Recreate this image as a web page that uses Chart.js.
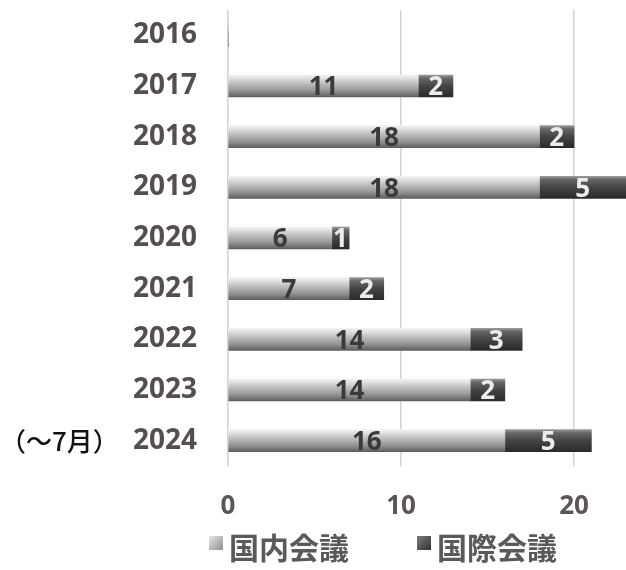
<!DOCTYPE html>
<html>
<head>
<meta charset="utf-8">
<script src="https://cdn.jsdelivr.net/npm/chart.js@4.4.0/dist/chart.umd.min.js"></script>
<style>
  html, body { margin: 0; padding: 0; background: #fff; }
  #wrap { position: relative; width: 626px; height: 570px; }
  #legend { position: absolute; left: 209px; top: 526px; display: flex; font: bold 30px "Noto Sans CJK JP"; color: #5a5a5a; line-height: 40px; }
  #legend .item { display: flex; align-items: center; margin-right: 68px; }
  #legend .box { width: 14px; height: 14px; margin-right: 6px; margin-top: -6px; }
</style>
</head>
<body>
<div id="wrap"><canvas id="myChart"></canvas><div id="legend"></div></div>
<script>
// DATA
const years = ['2016', '2017', '2018', '2019', '2020', '2021', '2022', '2023', '2024'];
const domestic = [0, 11, 18, 18, 6, 7, 14, 14, 16];
const international = [0, 2, 2, 5, 1, 2, 3, 2, 5];
const xTicks = [0, 10, 20];

const BAR_H = 22;
const FONT = '"Open Sans"';

// cylinder-like shading for each bar
function barFill(stops, flat) {
    return function(c) {
        const chart = c.chart;
        if (c.type !== 'data' || !chart.chartArea) return flat;
        const yc = chart.scales.y.getPixelForValue(c.dataIndex);
        const g = chart.ctx.createLinearGradient(0, yc - BAR_H / 2, 0, yc + BAR_H / 2);
        stops.forEach(s => g.addColorStop(s[0], s[1]));
        return g;
    };
}

const domStops = [[0, '#f2f2f2'], [0.15, '#e0e0e0'], [0.4, '#bdbdbd'], [0.72, '#939393'], [1, '#5e5e5e']];
const intStops = [[0, '#9a9a9a'], [0.15, '#666666'], [0.5, '#444444'], [1, '#2a2a2a']];
const legendFill = ['linear-gradient(135deg, #e6e6e6, #8f8f8f)', 'linear-gradient(135deg, #808080, #2e2e2e)'];

// numbers inside the bars + the "(~7月)" note
const labelPlugin = {
    id: 'barLabels',
    afterDatasetsDraw(chart) {
        const ctx = chart.ctx;
        ctx.save();
        ctx.textAlign = 'center';
        ctx.textBaseline = 'middle';
        ctx.font = 'bold 26px ' + FONT;
        chart.data.datasets.forEach((ds, di) => {
            const meta = chart.getDatasetMeta(di);
            ctx.fillStyle = di === 0 ? '#3a3a3a' : '#ececec';
            meta.data.forEach((bar, i) => {
                if (!ds.data[i]) return;
                const p = bar.getCenterPoint();
                ctx.fillText(ds.data[i], p.x, p.y + 2);
            });
        });
        const y = chart.scales.y.getPixelForValue(years.length - 1);
        ctx.textAlign = 'left';
        ctx.fillStyle = '#111';
        ctx.font = '500 26px "Noto Sans CJK JP"';
        ctx.fillText('（～7月）', 0, y);
        ctx.restore();
    }
};

// html legend under the plot
const legendPlugin = {
    id: 'htmlLegend',
    afterUpdate(chart) {
        const el = document.getElementById('legend');
        el.innerHTML = '';
        chart.data.datasets.forEach((ds, i) => {
            const item = document.createElement('div');
            item.className = 'item';
            const box = document.createElement('span');
            box.className = 'box';
            box.style.background = legendFill[i];
            const txt = document.createElement('span');
            txt.textContent = ds.label;
            item.appendChild(box);
            item.appendChild(txt);
            el.appendChild(item);
        });
    }
};

const ctx = document.getElementById('myChart').getContext('2d');
const myChart = new Chart(ctx, {
    type: 'bar',
    data: {
        labels: years,
        datasets: [{
            label: '国内会議',
            data: domestic,
            backgroundColor: barFill(domStops, '#a6a6a6'),
            barThickness: BAR_H
        }, {
            label: '国際会議',
            data: international,
            backgroundColor: barFill(intStops, '#444444'),
            barThickness: BAR_H
        }]
    },
    options: {
        indexAxis: 'y',
        responsive: true,
        maintainAspectRatio: false,
        animation: false,
        layout: { padding: { top: 10, right: 0, bottom: 47, left: 0 } },
        scales: {
            x: {
                stacked: true,
                min: 0,
                max: 23,
                afterBuildTicks: s => { s.ticks = xTicks.map(v => ({ value: v })); },
                afterFit: s => { s.height = 57; s.paddingLeft = 0; s.paddingRight = 0; },
                grid: { color: '#d8d0cc', lineWidth: 1.5, drawTicks: false },
                border: { display: false },
                ticks: { color: '#5b5553', font: { family: FONT, weight: 'bold', size: 26 }, padding: 25 }
            },
            y: {
                stacked: true,
                afterFit: s => { s.width = 228; s.paddingTop = 0; s.paddingBottom = 0; },
                grid: { display: false, drawTicks: false },
                border: { display: false },
                ticks: { color: '#544e4c', font: { family: FONT, weight: 'bold', size: 28 }, padding: 31 }
            }
        },
        plugins: {
            legend: { display: false },
            tooltip: { enabled: false }
        }
    },
    plugins: [labelPlugin, legendPlugin]
});
</script>
</body>
</html>
